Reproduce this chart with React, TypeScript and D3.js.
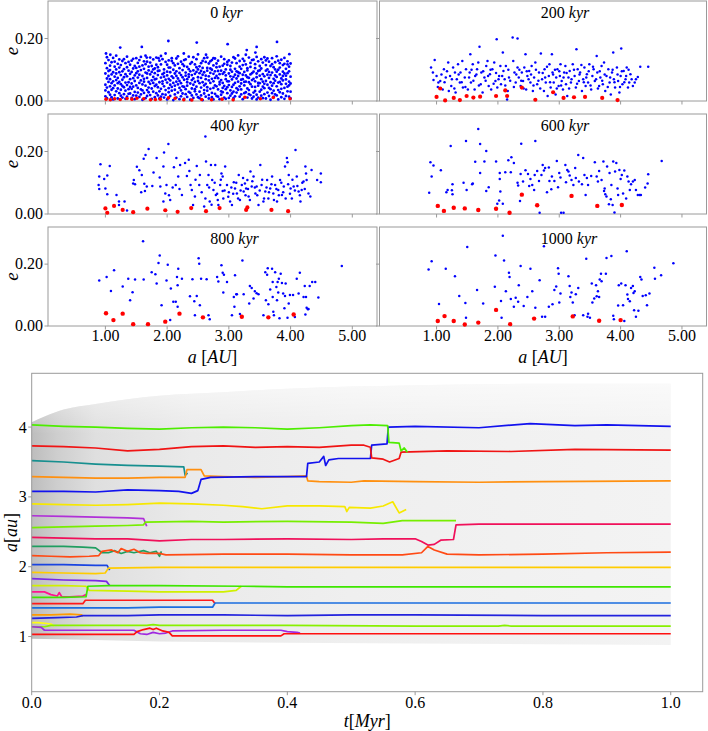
import React from 'react';
import * as d3 from 'd3';

type P = [number, number];

// ---- snapshot scatter data (a [AU], e) ----
// 0 kyr dense cloud: "a*1000:e*1000,..." columns
const blue0Cols = `1000:15,52,88,121,34 1025:72,9,105,43,140 1050:28,96,61,131,80 1075:47,113,20,70,99 1100:85,36,124,57,12
1125:63,5,92,138,41 1150:19,78,110,50,126 1175:101,31,67,145,88 1200:40,119,8,74,57 1225:92,25,133,61,107
1250:54,83,17,115,36 1275:11,68,128,95,48 1300:76,44,102,22,134 1325:33,121,59,86,7 1350:108,14,79,51,142
1375:60,97,38,125,23 1400:24,87,116,45,70 1425:129,56,10,93,39 1450:46,73,135,18,104 1475:82,29,64,112,6
1500:17,106,50,89,137 1525:95,42,122,27,75 1550:58,131,13,84,110 1575:37,66,99,141,21 1600:114,4,53,80,34
1625:71,127,26,103,62 1650:9,49,91,118,145 1675:88,35,74,16,126 1700:43,110,61,98,28 1725:123,19,85,55,139
1750:66,93,40,7,112 1775:30,77,133,58,101 1800:104,48,12,89,69 1825:52,139,71,25,116 1850:18,83,108,44,96
1875:97,60,31,129,8 1900:39,117,75,14,144 1925:86,22,55,134,63 1950:11,101,90,47,78 1975:125,35,68,152,20
2000:59,94,5,82,116 2025:28,71,130,41,107 2050:107,16,52,92,66 2075:45,128,79,33,137 2100:74,3,100,58,121
2125:21,88,36,114,49 2150:136,62,95,11,80 2175:53,27,119,72,143 2200:90,105,42,6,64 2225:34,57,83,126,15
2250:118,76,24,99,47 2275:7,45,112,68,131 2300:81,133,38,91,22 2325:49,13,70,109,60 2350:102,85,29,142,77
2375:26,119,56,4,95 2400:67,40,124,83,18 2425:140,98,10,52,72 2450:38,61,87,117,31 2475:93,21,134,46,108
2500:12,76,64,101,149 2525:57,111,30,89,9 2550:121,43,74,18,96 2575:84,3,106,60,128 2600:35,92,50,137,24
2625:70,125,14,81,55 2650:106,33,97,44,139 2675:19,66,120,8,79 2700:58,104,39,90,127 2725:131,12,71,26,100
2750:42,87,114,63,5 2775:95,50,23,136,74 2800:16,120,80,47,108 2825:73,37,129,96,14 2850:110,61,6,53,86
2875:31,97,142,20,67 2900:87,28,58,113,42 2925:48,134,92,11,119 2950:7,70,38,101,82 2975:125,44,116,63,25
3000:63,10,88,130,51 3025:100,79,34,17,112 3050:24,123,69,94,45 3075:77,52,140,30,9 3100:136,15,84,58,103
3125:41,95,121,72,27 3150:92,36,62,146,80 3175:14,110,47,89,128 3200:68,21,103,56,37 3225:115,84,6,135,70
3250:50,128,93,25,61 3275:28,62,117,82,148 3300:105,40,11,98,76 3325:60,139,74,35,22 3350:19,85,54,122,109
3375:89,8,131,46,67 3400:132,71,27,94,14 3425:45,105,63,118,32 3450:76,20,88,5,141 3475:11,96,49,127,58
3500:98,57,112,30,81 3525:36,134,70,17,104 3550:123,46,9,86,62 3575:55,79,140,41,22 3600:8,115,64,97,130
3625:84,27,101,52,136 3650:42,93,16,126,74 3675:112,60,38,83,4 3700:25,137,91,49,118 3725:71,13,57,108,33
3750:101,82,124,21,65 3775:18,47,77,143,94 3800:129,35,5,100,59 3825:61,107,85,28,121 3850:39,72,132,54,12
3875:94,24,66,115,80 3900:7,119,42,88,138 3925:81,55,103,16,69 3950:117,89,31,127,46 3975:50,14,95,62,110
4000:30,78,120,8,56`;
const blue0Extra = `1.01,.152 1.08,.148 1.24,.171 1.59,.173 2.02,.192 2.48,.187 2.63,.148 2.75,.137 2.98,.182
3.29,.163 3.43,.155 3.45,.173 3.78,.189 3.98,.150 1.67,.139 1.86,.137 2.27,.152`;
const red0 = `1.01,.006 1.08,.004 1.15,.007 1.24,.005 1.35,.008 1.43,.006 1.51,.009 1.62,.007 1.73,.004 1.81,.005
1.89,.006 2.02,.01 2.13,.009 2.27,.004 2.40,.003 2.56,.005 2.72,.004 2.89,.006 3.07,.004 3.26,.012 3.51,.007
3.72,.011 3.99,.007`;

const blue200 = `.91,.107 .97,.131 .94,.091 .95,.067 1.0,.08 1.03,.059 1.06,.064 1.10,.037 1.12,.102 1.15,.075 1.19,.123
1.20,.032 1.22,.080 1.24,.048 1.27,.107 1.30,.091 1.31,.027 1.33,.070 1.35,.118 1.38,.059 1.39,.091 1.42,.128
1.43,.043 1.46,.075 1.48,.102 1.51,.037 1.54,.091 1.55,.15 1.56,.059 1.59,.118 1.62,.037 1.63,.080 1.66,.102
1.68,.123 1.70,.174 1.72,.054 1.73,.091 1.75,.027 1.78,.075 1.81,.112 1.83,.128 1.85,.048 1.87,.086 1.89,.037
1.91,.102 1.94,.123 1.96,.064 1.98,.198 1.99,.043 2.02,.080 2.04,.112 2.05,.054 2.08,.155 2.09,.096 2.11,.070
2.13,.112 2.15,.005 2.16,.032 2.18,.075 2.24,.203 2.25,.128 2.27,.091 2.29,.059 2.32,.2 2.32,.107 2.34,.075
2.37,.048 2.39,.091 2.41,.064 2.43,.107 2.45,.15 2.46,.037 2.48,.080 2.51,.096 2.53,.059 2.55,.112 2.57,.032
2.59,.075 2.61,.123 2.64,.054 2.67,.091 2.70,.152 2.72,.070 2.75,.032 2.76,.102 2.78,.059 2.81,.016 2.83,.080
2.84,.118 2.86,.043 2.88,.15 2.89,.091 2.91,.059 2.94,.021 2.95,.075 2.97,.102 2.99,.048 3.01,.080 3.02,.118
3.04,.064 3.06,.037 3.08,.091 3.10,.112 3.11,.054 3.13,.016 3.15,.075 3.17,.096 3.19,.059 3.22,.118 3.25,.080
3.27,.043 3.28,.166 3.30,.102 3.32,.064 3.34,.091 3.37,.032 3.39,.070 3.41,.107 3.43,.048 3.45,.086 3.47,.059
3.49,.118 3.52,.037 3.54,.080 3.56,.102 3.58,.064 3.61,.144 3.62,.091 3.65,.048 3.67,.075 3.69,.112 3.71,.054
3.73,.123 3.75,.032 3.77,.080 3.80,.102 3.82,.059 3.84,.021 3.86,.091 3.88,.155 3.89,.070 3.91,.043 3.94,.107
3.96,.064 3.98,.027 4.00,.080 4.01,.168 4.03,.054 4.05,.096 4.08,.070 4.10,.107 4.12,.043 4.14,.059 4.16,.086
4.20,.048 4.23,.059 4.25,.070 4.28,.077 4.32,.11 4.45,.11
1.02,.045 1.08,.085 1.13,.06 1.17,.095 1.25,.07 1.29,.04 1.36,.085 1.41,.06 1.47,.045 1.53,.075 1.57,.1 1.6,.065
1.65,.085 1.69,.05 1.76,.095 1.8,.065 1.84,.08 1.88,.1 1.93,.055 1.97,.09 2.01,.07 2.07,.08 2.12,.05 2.17,.1
2.2,.065 2.26,.045 2.3,.085 2.35,.1 2.38,.065 2.42,.04 2.47,.095 2.5,.07 2.54,.085 2.58,.05 2.62,.1 2.66,.065
2.69,.04 2.73,.09 2.77,.075 2.8,.11 2.85,.06 2.9,.085 2.93,.1 2.96,.04 3.0,.095 3.03,.05 3.07,.075 3.12,.09
3.16,.04 3.2,.07 3.24,.1 3.29,.055 3.33,.085 3.36,.115 3.4,.06 3.44,.075 3.48,.095 3.51,.05 3.55,.11 3.6,.07
3.63,.04 3.66,.095 3.7,.065 3.74,.085 3.79,.045 3.83,.075 3.87,.1 3.9,.06 3.95,.085 3.99,.045 4.02,.095 4.06,.06
4.09,.08 4.13,.1 4.18,.07`;
const red200 = `1.0,.013 1.06,.040 1.14,.002 1.28,.010 1.38,.003 1.49,.016 1.60,.011 1.71,.014 1.97,.016 2.12,.034
2.15,.016 2.39,.043 2.61,.004 2.90,.028 3.07,.010 3.24,.012 3.42,.013 3.70,.010 3.95,.003`;

const blue400 = `.89,.093 .90,.080 .92,.159 .90,.12 .98,.112 1.00,.082 1.03,.123 1.07,.154 1.03,.063 1.18,.061 1.22,.04
1.22,.029 1.31,.04 1.35,.011 1.45,.098 1.46,.109 1.48,.095 1.51,.151 1.55,.14 1.59,.125 1.62,.177 1.65,.189
1.63,.097 1.64,.074 1.67,.088 1.70,.208 1.78,.133 1.83,.179 1.88,.117 1.89,.088 1.95,.197 1.94,.152 1.97,.066
1.99,.093 1.94,.04 2.02,.224 2.05,.045 2.09,.085 2.11,.150 2.15,.179 2.18,.12 2.21,.157 2.14,.093 2.24,.061
2.29,.163 2.32,.122 2.35,.174 2.36,.138 2.38,.093 2.40,.077 2.42,.029 2.45,.056 2.48,.154 2.52,.093 2.53,.125
2.56,.07 2.60,.024 2.62,.248 2.63,.168 2.65,.093 2.67,.125 2.69,.04 2.71,.157 2.73,.109 2.75,.077 2.78,.157
2.79,.061 2.82,.045 2.83,.029 2.86,.093 2.88,.13 2.90,.12 2.90,.074 2.91,.05 2.94,.152 2.97,.093 3.00,.07
3.02,.04 3.05,.029 3.08,.102 3.10,.082 3.13,.066 3.16,.125 3.18,.045 3.21,.093 3.24,.072 3.26,.098 3.28,.082
3.30,.109 3.32,.056 3.35,.136 3.37,.088 3.40,.12 3.43,.066 3.45,.088 3.48,.029 3.51,.157 3.53,.093 3.56,.04
3.59,.072 3.62,.109 3.64,.05 3.67,.082 3.70,.12 3.72,.066 3.75,.093 3.78,.04 3.80,.077 3.83,.109 3.86,.061
3.89,.088 3.91,.152 3.94,.179 3.95,.166 3.97,.125 4.00,.082 4.02,.05 4.05,.088 4.08,.205 4.10,.12 4.13,.072
4.16,.04 4.18,.077 4.21,.104 4.24,.152 4.25,.13 4.26,.109 4.29,.066 4.32,.056 4.34,.141 4.43,.109 4.49,.13
4.49,.102 2.62,.05 2.68,.085 2.72,.03 2.77,.1 2.81,.065 2.87,.11 2.93,.075 2.99,.055 3.04,.085 3.07,.065
3.12,.1 3.15,.05 3.19,.075 3.23,.115 3.27,.06 3.31,.08 3.34,.045 3.38,.105 3.42,.085 3.46,.06 3.5,.075 3.54,.11
3.57,.05 3.61,.085 3.65,.07 3.69,.095 3.73,.045 3.77,.08 3.81,.06 3.85,.1 3.88,.07 3.92,.05 3.96,.095 3.99,.065
4.03,.11 4.07,.075 4.11,.09 4.15,.06 4.19,.1 4.23,.08 2.03,.06 2.2,.08 2.46,.11 1.76,.09 1.58,.07`;
const red400 = `1.0,.018 1.03,.004 1.14,.026 1.28,.013 1.45,.006 1.68,.017 1.97,.012 2.17,.007 2.39,.019 2.63,.009
2.85,.019 3.28,.013 3.30,.021 3.69,.013 3.96,.009`;

const blue600 = `.88,.068 .90,.166 .92,.120 .95,.155 1.07,.140 1.16,.070 1.18,.077 1.23,.218 1.25,.076 1.26,.095 1.26,.063
1.44,.10 1.48,.234 1.49,.077 1.58,.095 1.59,.098 1.63,.167 1.68,.272 1.71,.224 1.71,.131 1.78,.168 1.81,.202
1.81,.074 1.85,.086 1.97,.168 1.99,.033 2.02,.043 2.03,.112 2.03,.131 2.08,.033 2.04,.072 2.12,.134 2.17,.172
2.22,.182 2.21,.134 2.26,.163 2.32,.10 2.33,.091 2.36,.042 2.38,.225 2.37,.128 2.41,.104 2.45,.140 2.49,.128
2.51,.09 2.53,.112 2.56,.093 2.59,.077 2.60,.125 2.61,.234 2.64,.138 2.67,.106 2.68,.004 2.71,.125 2.73,.157
2.75,.139 2.77,.147 2.80,.070 2.83,.149 2.84,.106 2.87,.079 2.88,.12 2.92,.106 2.96,.170 2.98,.086 3.00,.131
3.02,.117 3.03,.004 3.07,.004 3.10,.157 3.11,.102 3.13,.141 3.15,.136 3.17,.123 3.20,.109 3.23,.093 3.26,.147
3.27,.115 3.31,.189 3.32,.104 3.37,.095 3.39,.179 3.41,.125 3.43,.061 3.45,.115 3.47,.093 3.52,.122 3.58,.166
3.61,.12 3.63,.104 3.65,.138 3.69,.109 3.72,.168 3.73,.074 3.74,.082 3.75,.063 3.77,.056 3.78,.152 3.81,.031
3.82,.131 3.84,.047 3.85,.093 3.87,.029 3.88,.168 3.90,.005 3.91,.136 3.93,.163 3.95,.082 3.96,.061 3.98,.141
4.00,.112 4.02,.125 4.04,.066 4.06,.139 4.09,.05 4.11,.12 4.13,.104 4.15,.077 4.17,.095 4.20,.104 4.23,.109
4.25,.077 4.28,.061 4.31,.061 4.33,.061 4.40,.085 4.44,.098 4.45,.127 4.67,.170`;
const red600 = `1.02,.026 1.12,.010 1.28,.020 1.46,.018 1.68,.013 1.97,.017 2.19,.004 2.39,.062 2.64,.028 3.20,.058
3.62,.026 4.02,.029`;

const blue800 = `.90,.147 1.02,.158 1.09,.113 1.14,.18 1.28,.128 1.37,.153 1.40,.083 1.44,.109 1.48,.15 1.61,.274 1.62,.15
1.75,.174 1.81,.167 1.83,.137 1.86,.204 1.88,.228 1.91,.067 1.99,.147 2.01,.198 2.05,.019 2.06,.121 2.10,.078
2.14,.078 2.16,.158 2.17,.132 2.17,.062 2.18,.185 2.24,.153 2.37,.096 2.41,.151 2.44,.08 2.45,.035 2.48,.097
2.51,.219 2.52,.201 2.53,.067 2.55,.153 2.64,.151 2.67,.035 2.69,.022 2.81,.158 2.83,.144 2.88,.196 2.90,.172
2.91,.108 2.92,.166 2.97,.142 3.05,.035 3.08,.094 3.09,.062 3.10,.164 3.12,.103 3.13,.103 3.18,.039 3.22,.212
3.24,.103 3.33,.073 3.34,.129 3.37,.123 3.40,.089 3.42,.112 3.45,.106 3.48,.103 3.56,.035 3.59,.174 3.60,.083
3.62,.166 3.63,.187 3.64,.07 3.67,.118 3.70,.185 3.71,.142 3.71,.094 3.72,.046 3.73,.035 3.75,.174 3.77,.126
3.78,.083 3.79,.142 3.80,.108 3.81,.153 3.82,.025 3.84,.169 3.86,.139 3.88,.105 3.90,.057 3.91,.097 3.92,.137
3.95,.027 3.97,.073 3.99,.1 4.04,.1 4.07,.029 4.10,.153 4.13,.105 4.15,.172 4.21,.094 4.23,.129 4.24,.037
4.25,.094 4.26,.059 4.28,.054 4.29,.055 4.31,.129 4.35,.142 4.40,.142 4.45,.092 4.83,.194`;
const red800 = `1.01,.041 1.13,.019 1.28,.040 1.45,.006 1.69,.006 1.97,.014 2.20,.040 2.58,.028 3.21,.030 3.64,.028
4.05,.037`;

const blue1000 = `.87,.183 .92,.209 1.04,.071 1.15,.185 1.30,.161 1.37,.097 1.47,.074 1.48,.027 1.50,.255 1.66,.116
1.76,.073 1.95,.127 1.96,.228 2.05,.081 2.06,.027 2.08,.292 2.10,.212 2.13,.112 2.18,.172 2.19,.158 2.21,.087
2.26,.062 2.29,.091 2.33,.078 2.34,.132 2.37,.194 2.42,.065 2.48,.094 2.53,.185 2.56,.112 2.61,.059 2.68,.148
2.72,.03 2.75,.258 2.77,.03 2.83,.062 2.89,.07 2.92,.116 2.95,.128 2.98,.187 2.99,.169 3.00,.076 3.02,.105
3.15,.161 3.17,.129 3.18,.094 3.20,.108 3.22,.076 3.25,.035 3.27,.103 3.31,.123 3.39,.035 3.44,.217 3.46,.03
3.47,.04 3.50,.027 3.53,.137 3.54,.076 3.57,.089 3.60,.132 3.61,.096 3.63,.112 3.65,.094 3.66,.15 3.68,.169
3.69,.145 3.76,.169 3.77,.22 3.85,.226 3.88,.033 3.89,.022 3.96,.066 3.97,.132 4.01,.137 4.04,.067 4.06,.016
4.08,.132 4.10,.242 4.11,.102 4.12,.087 4.15,.08 4.17,.123 4.20,.129 4.21,.107 4.22,.051 4.23,.112 4.25,.03
4.29,.049 4.32,.158 4.34,.15 4.36,.097 4.41,.099 4.43,.067 4.47,.105 4.55,.188 4.56,.153 4.66,.164 4.86,.203`;
const red1000 = `1.02,.016 1.13,.032 1.28,.016 1.46,.005 1.68,.011 1.97,.052 2.20,.006 2.59,.024 3.22,.031 3.65,.017
4.0,.019`;

const snapLabels = ['0', '200', '400', '600', '800', '1000'];
const eTicks = [0, 0.2];
const aTicks = [1, 2, 3, 4, 5];

// ---- semi-major axis evolution tracks (t [Myr], a [au]) ----
const cloudTop: P[] = [[0, 4.07], [0.02, 4.15], [0.05, 4.25], [0.1, 4.33], [0.15, 4.4], [0.2, 4.45], [0.3, 4.5], [0.4, 4.55], [0.5, 4.58], [0.6, 4.6], [0.8, 4.62], [1.0, 4.62]];
const cloudBottom: P[] = [[0, 0.97], [0.1, 0.95], [0.2, 0.93], [0.4, 0.91], [0.6, 0.9], [0.8, 0.89], [1.0, 0.88]];

const greenTop: P[] = [[0, 4.03], [0.05, 4.01], [0.1, 4.0], [0.15, 3.98], [0.2, 3.97], [0.25, 3.99], [0.3, 4.0], [0.35, 3.99], [0.4, 3.97], [0.45, 3.99], [0.5, 4.02], [0.53, 4.03], [0.557, 4.02], [0.559, 3.78], [0.575, 3.77], [0.578, 3.66], [0.583, 3.7], [0.588, 3.64]];
const blueTop: P[] = [[0, 3.08], [0.05, 3.08], [0.1, 3.07], [0.15, 3.1], [0.2, 3.09], [0.23, 3.08], [0.25, 3.05], [0.26, 3.09], [0.265, 3.25], [0.28, 3.28], [0.35, 3.29], [0.43, 3.29], [0.432, 3.48], [0.45, 3.5], [0.457, 3.58], [0.46, 3.45], [0.465, 3.53], [0.48, 3.55], [0.53, 3.55], [0.532, 3.74], [0.556, 3.76], [0.558, 4.0], [0.6, 4.01], [0.7, 3.99], [0.78, 4.05], [0.85, 4.02], [0.9, 4.03], [1.0, 4.01]];
const redTop: P[] = [[0, 3.73], [0.05, 3.72], [0.1, 3.7], [0.15, 3.66], [0.2, 3.68], [0.25, 3.72], [0.3, 3.73], [0.35, 3.71], [0.4, 3.72], [0.45, 3.71], [0.5, 3.74], [0.52, 3.74], [0.53, 3.71], [0.532, 3.56], [0.55, 3.54], [0.56, 3.5], [0.575, 3.55], [0.578, 3.64], [0.65, 3.66], [0.75, 3.65], [0.85, 3.68], [1.0, 3.67]];
const teal: P[] = [[0, 3.52], [0.05, 3.5], [0.1, 3.47], [0.15, 3.45], [0.2, 3.44], [0.238, 3.43], [0.24, 3.31], [0.244, 3.34]];
const orange: P[] = [[0, 3.29], [0.05, 3.28], [0.1, 3.27], [0.15, 3.27], [0.2, 3.28], [0.24, 3.28], [0.243, 3.39], [0.265, 3.39], [0.27, 3.3], [0.3, 3.29], [0.35, 3.28], [0.4, 3.29], [0.43, 3.3], [0.432, 3.23], [0.45, 3.22], [0.5, 3.21], [0.52, 3.23], [0.6, 3.22], [0.7, 3.21], [0.8, 3.22], [1.0, 3.23]];
const yellow: P[] = [[0, 2.9], [0.05, 2.89], [0.1, 2.88], [0.15, 2.89], [0.2, 2.91], [0.25, 2.9], [0.3, 2.88], [0.33, 2.86], [0.36, 2.83], [0.4, 2.87], [0.45, 2.87], [0.49, 2.86], [0.493, 2.79], [0.497, 2.85], [0.53, 2.84], [0.55, 2.87], [0.565, 2.93], [0.575, 2.77], [0.586, 2.82]];
const purple: P[] = [[0, 2.73], [0.05, 2.72], [0.1, 2.71], [0.15, 2.7], [0.175, 2.69], [0.18, 2.58]];
const lime: P[] = [[0, 2.56], [0.05, 2.57], [0.1, 2.58], [0.15, 2.59], [0.175, 2.6], [0.178, 2.64], [0.25, 2.65], [0.3, 2.64], [0.4, 2.65], [0.5, 2.64], [0.55, 2.62], [0.58, 2.66], [0.62, 2.66], [0.664, 2.66]];
const crimson: P[] = [[0, 2.42], [0.05, 2.41], [0.1, 2.4], [0.15, 2.4], [0.2, 2.37], [0.25, 2.39], [0.3, 2.39], [0.4, 2.4], [0.5, 2.39], [0.55, 2.4], [0.6, 2.4], [0.61, 2.36], [0.62, 2.31], [0.63, 2.32], [0.64, 2.38], [0.66, 2.39], [0.664, 2.6], [0.7, 2.61], [0.8, 2.61], [1.0, 2.61]];
const orangeRed: P[] = [[0, 2.16], [0.03, 2.15], [0.06, 2.14], [0.09, 2.15], [0.105, 2.16], [0.11, 2.22], [0.125, 2.24], [0.135, 2.2], [0.14, 2.26], [0.15, 2.22], [0.16, 2.25], [0.17, 2.2], [0.18, 2.19], [0.2, 2.19], [0.21, 2.17], [0.3, 2.18], [0.4, 2.18], [0.5, 2.17], [0.58, 2.17], [0.61, 2.2], [0.62, 2.29], [0.63, 2.24], [0.65, 2.18], [0.7, 2.17], [0.8, 2.18], [0.9, 2.2], [1.0, 2.21]];
const seaGreen: P[] = [[0, 2.29], [0.05, 2.29], [0.08, 2.28], [0.1, 2.27], [0.11, 2.2], [0.12, 2.2], [0.13, 2.23], [0.14, 2.19], [0.15, 2.22], [0.16, 2.2], [0.175, 2.23], [0.185, 2.2], [0.195, 2.22], [0.2, 2.15], [0.203, 2.22]];
const blue2: P[] = [[0, 2.03], [0.05, 2.03], [0.1, 2.02], [0.118, 2.02], [0.122, 1.95]];
const gold: P[] = [[0, 1.92], [0.05, 1.91], [0.1, 1.9], [0.115, 1.91], [0.12, 1.98], [0.2, 1.99], [0.4, 1.99], [0.6, 1.99], [0.8, 1.99], [1.0, 1.99]];
const violet: P[] = [[0, 1.83], [0.05, 1.81], [0.1, 1.8], [0.117, 1.79], [0.122, 1.73]];
const yellowGreen: P[] = [[0, 1.73], [0.05, 1.73], [0.085, 1.72], [0.09, 1.66], [0.15, 1.65], [0.2, 1.64], [0.25, 1.64], [0.3, 1.64], [0.32, 1.66], [0.328, 1.72]];
const green: P[] = [[0, 1.56], [0.05, 1.56], [0.085, 1.57], [0.088, 1.72], [0.12, 1.73], [0.2, 1.73], [0.33, 1.72], [0.4, 1.71], [0.6, 1.71], [0.8, 1.71], [1.0, 1.71]];
const pink: P[] = [[0, 1.64], [0.02, 1.64], [0.03, 1.6], [0.04, 1.58], [0.043, 1.63], [0.047, 1.57], [0.06, 1.57], [0.08, 1.58], [0.085, 1.6]];
const redMid: P[] = [[0, 1.47], [0.04, 1.47], [0.08, 1.47], [0.084, 1.52], [0.15, 1.52], [0.2, 1.52], [0.25, 1.52], [0.283, 1.52], [0.287, 1.47]];
const dodger: P[] = [[0, 1.41], [0.05, 1.41], [0.1, 1.41], [0.15, 1.41], [0.2, 1.42], [0.25, 1.42], [0.283, 1.42], [0.287, 1.48], [0.4, 1.48], [0.6, 1.48], [0.8, 1.48], [1.0, 1.48]];
const orange2: P[] = [[0, 1.31], [0.03, 1.31], [0.06, 1.32], [0.078, 1.31], [0.08, 1.29]];
const blue3: P[] = [[0, 1.26], [0.04, 1.27], [0.07, 1.28], [0.08, 1.3], [0.15, 1.3], [0.2, 1.31], [0.3, 1.31], [0.4, 1.3], [0.5, 1.31], [0.6, 1.31], [0.8, 1.3], [1.0, 1.3]];
const yellow2: P[] = [[0, 1.2], [0.01, 1.2], [0.02, 1.19], [0.03, 1.18], [0.035, 1.15]];
const lime2: P[] = [[0, 1.14], [0.02, 1.14], [0.03, 1.16], [0.1, 1.16], [0.18, 1.16], [0.19, 1.17], [0.2, 1.16], [0.4, 1.16], [0.6, 1.15], [0.73, 1.15], [0.74, 1.16], [0.75, 1.15], [1.0, 1.15]];
const purple2: P[] = [[0, 1.14], [0.015, 1.13], [0.02, 1.09], [0.1, 1.09], [0.16, 1.09], [0.17, 1.04], [0.18, 1.03], [0.19, 1.06], [0.2, 1.04], [0.21, 1.05], [0.22, 1.08], [0.3, 1.09], [0.39, 1.09], [0.4, 1.07], [0.415, 1.06], [0.42, 1.05]];
const redBottom: P[] = [[0, 1.03], [0.05, 1.03], [0.1, 1.03], [0.16, 1.03], [0.165, 1.07], [0.175, 1.1], [0.185, 1.12], [0.19, 1.1], [0.195, 1.12], [0.205, 1.08], [0.215, 1.06], [0.22, 1.01], [0.3, 1.01], [0.39, 1.01], [0.395, 1.04], [0.45, 1.04], [0.6, 1.04], [0.8, 1.04], [1.0, 1.04]];

const tTicks = [0, 0.2, 0.4, 0.6, 0.8, 1.0];
const auTicks = [1, 2, 3, 4];

const tracks: { pts: P[]; color: string }[] = [
  { pts: teal, color: '#178f8f' },
  { pts: orange, color: '#ff9010' },
  { pts: blueTop, color: '#1212ee' },
  { pts: redTop, color: '#f01414' },
  { pts: greenTop, color: '#4ded00' },
  { pts: yellow, color: '#f7e800' },
  { pts: purple, color: '#b030d8' },
  { pts: lime, color: '#77ee00' },
  { pts: crimson, color: '#f0105a' },
  { pts: seaGreen, color: '#1f9e60' },
  { pts: orangeRed, color: '#ff4a14' },
  { pts: blue2, color: '#1a44e0' },
  { pts: gold, color: '#ffcc00' },
  { pts: violet, color: '#7a28e6' },
  { pts: yellowGreen, color: '#d0f000' },
  { pts: pink, color: '#ff1490' },
  { pts: green, color: '#3ee600' },
  { pts: redMid, color: '#ff1a1a' },
  { pts: dodger, color: '#1a6ee0' },
  { pts: orange2, color: '#ff9a00' },
  { pts: blue3, color: '#2222dd' },
  { pts: yellow2, color: '#ffff10' },
  { pts: lime2, color: '#88f000' },
  { pts: purple2, color: '#a028e0' },
  { pts: redBottom, color: '#ff1010' },
];

const pairs = (s: string): P[] => s.trim().split(/\s+/).map(t => { const [a, e] = t.split(','); return [+a, +e] as P; });
const cols = (s: string): P[] => s.trim().split(/\s+/).flatMap(tok => {
  const [a, es] = tok.split(':');
  return es.split(',').map(v => [+a / 1000, +v / 1000] as P);
});

const snaps = [
  { blue: [...cols(blue0Cols), ...pairs(blue0Extra)], red: pairs(red0), rb: 1.4, rr: 1.8 },
  { blue: pairs(blue200), red: pairs(red200), rb: 1.25, rr: 2.1 },
  { blue: pairs(blue400), red: pairs(red400), rb: 1.25, rr: 2.1 },
  { blue: pairs(blue600), red: pairs(red600), rb: 1.25, rr: 2.2 },
  { blue: pairs(blue800), red: pairs(red800), rb: 1.25, rr: 2.2 },
  { blue: pairs(blue1000), red: pairs(red1000), rb: 1.25, rr: 2.2 },
];

const FONT = "'Liberation Serif', 'DejaVu Serif', serif";
const FRAME = '#9a9a9a';
const colX = [[48, 377], [379.5, 706.5]];
const rowY = [[1, 101], [114, 214], [227, 326]];

function Snapshot({ i }: { i: number }) {
  const c = i % 2, r = Math.floor(i / 2);
  const [x0, x1] = colX[c];
  const [y0, y1] = rowY[r];
  const x = d3.scaleLinear().domain([0.07, 5.4]).range([x0, x1]);
  const y = d3.scaleLinear().domain([0, 0.32]).range([y1, y0]);
  const s = snaps[i];
  return (
    <g>
      <rect x={x0} y={y0} width={x1 - x0} height={y1 - y0} fill="#fff" stroke={FRAME} strokeWidth={1} />
      {aTicks.map(t => (
        <line key={'xt' + t} x1={x(t)} x2={x(t)} y1={y1} y2={y1 + 3.5} stroke={FRAME} />
      ))}
      {eTicks.map(t => (
        <line key={'yt' + t} x1={x0 - 3.5} x2={x0} y1={y(t)} y2={y(t)} stroke={FRAME} />
      ))}
      {c === 0 && eTicks.map(t => (
        <text key={'yl' + t} x={x0 - 5} y={y(t) + 5} textAnchor="end" fontSize={16} fontFamily={FONT}>{t.toFixed(2)}</text>
      ))}
      {r === 2 && aTicks.map(t => (
        <text key={'xl' + t} x={x(t)} y={y1 + 15} textAnchor="middle" fontSize={16} fontFamily={FONT}>{t.toFixed(2)}</text>
      ))}
      <g>
        {s.blue.map((p, k) => (
          <circle key={k} cx={x(p[0])} cy={y(p[1])} r={s.rb} fill="#0000ff" />
        ))}
        {s.red.map((p, k) => (
          <circle key={'r' + k} cx={x(p[0])} cy={y(p[1])} r={s.rr} fill="#ff0000" />
        ))}
      </g>
      <text x={x(2.7)} y={y0 + 17} fontSize={16} fontFamily={FONT}>
        {snapLabels[i]} <tspan fontStyle="italic">kyr</tspan>
      </text>
      {c === 0 && (
        <text transform={`translate(18,${(y0 + y1) / 2}) rotate(-90)`} textAnchor="middle" fontSize={19} fontStyle="italic" fontFamily={FONT}>e</text>
      )}
      {r === 2 && (
        <text x={(x0 + x1) / 2} y={363} textAnchor="middle" fontSize={18} fontFamily={FONT}>
          <tspan fontStyle="italic">a</tspan> [<tspan fontStyle="italic">AU</tspan>]
        </text>
      )}
    </g>
  );
}

function Evolution() {
  const L = 31.7, R = 702.7, T = 373.3, B = 691.7;
  const x = d3.scaleLinear().domain([0, 1.05]).range([L, R]);
  const y = d3.scaleLinear().domain([0.21, 4.77]).range([B, T]);
  const line = d3.line<P>().x(d => x(d[0])).y(d => y(d[1]));
  const topFn = d3.line<P>().x(d => x(d[0])).y(d => y(d[1])).curve(d3.curveMonotoneX);
  const band = (top: P[], bot: P[]) => {
    const up = topFn(top) || '';
    const lo = [...bot].reverse().map(d => `L${x(d[0])},${y(d[1])}`).join('');
    return up + lo + 'Z';
  };
  return (
    <g>
      <defs>
        <linearGradient id="cloudGrad" x1={x(0)} x2={x(1)} y1={0} y2={0} gradientUnits="userSpaceOnUse">
          <stop offset="0" stopColor="#bdbdbd" />
          <stop offset="0.04" stopColor="#cecece" />
          <stop offset="0.1" stopColor="#dfdfdf" />
          <stop offset="0.25" stopColor="#eaeaea" />
          <stop offset="0.5" stopColor="#efefef" />
          <stop offset="1" stopColor="#f3f3f3" />
        </linearGradient>
        <linearGradient id="cloudFade" x1={0} x2={0} y1={y(4.65)} y2={y(3.9)} gradientUnits="userSpaceOnUse">
          <stop offset="0" stopColor="#fff" stopOpacity={1} />
          <stop offset="1" stopColor="#fff" stopOpacity={0} />
        </linearGradient>
      </defs>
      <rect x={L} y={T} width={R - L} height={B - T} fill="#fff" />
      <path d={band(cloudTop, cloudBottom)} fill="url(#cloudGrad)" />
      <path d={band(cloudTop, cloudBottom)} fill="url(#cloudFade)" opacity={0.6} />
      {tracks.map((tr, k) => (
        <path key={k} d={line(tr.pts) || ''} fill="none" stroke={tr.color} strokeWidth={1.7} strokeLinejoin="round" />
      ))}
      <rect x={L} y={T} width={R - L} height={B - T} fill="none" stroke={FRAME} strokeWidth={1} />
      {tTicks.map(t => (
        <g key={'t' + t}>
          <line x1={x(t)} x2={x(t)} y1={B} y2={B + 3.5} stroke={FRAME} />
          <text x={x(t)} y={B + 16} textAnchor="middle" fontSize={16} fontFamily={FONT}>{t.toFixed(1)}</text>
        </g>
      ))}
      {auTicks.map(t => (
        <g key={'a' + t}>
          <line x1={L - 3.5} x2={L} y1={y(t)} y2={y(t)} stroke={FRAME} />
          <text x={L - 5} y={y(t) + 5.5} textAnchor="end" fontSize={16} fontFamily={FONT}>{t}</text>
        </g>
      ))}
      <text x={(L + R) / 2} y={727} textAnchor="middle" fontSize={18} fontFamily={FONT}>
        <tspan fontStyle="italic">t</tspan>[<tspan fontStyle="italic">Myr</tspan>]
      </text>
      <text transform={`translate(17,${(T + B) / 2}) rotate(-90)`} textAnchor="middle" fontSize={18} fontFamily={FONT}>
        <tspan fontStyle="italic">a</tspan>[<tspan fontStyle="italic">au</tspan>]
      </text>
    </g>
  );
}

export default function App() {
  return (
    <svg width={708} height={731} style={{ position: 'absolute', left: 0, top: 0, background: '#fff' }}>
      <rect width={708} height={731} fill="#fff" />
      {snapLabels.map((_, i) => <Snapshot key={i} i={i} />)}
      <Evolution />
    </svg>
  );
}
